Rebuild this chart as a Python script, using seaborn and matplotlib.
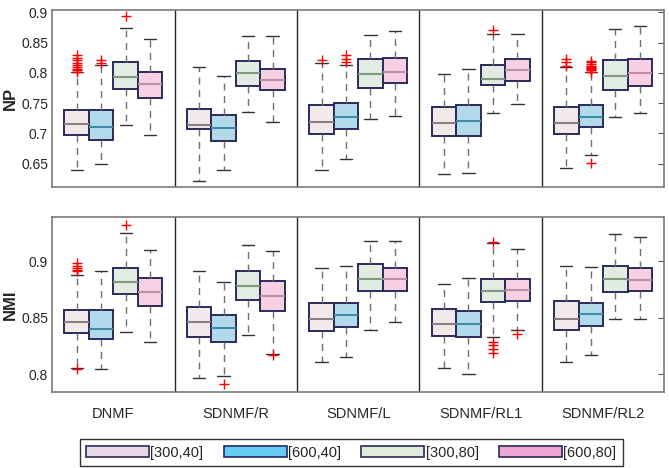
import pandas as pd
import seaborn as sns
import matplotlib.pyplot as plt
from matplotlib.patches import Patch
from matplotlib.ticker import FuncFormatter

sns.set_style("white")
plt.rcParams['font.family'] = ['Liberation Sans', 'DejaVu Sans']

methods = ["DNMF", "SDNMF/R", "SDNMF/L", "SDNMF/RL1", "SDNMF/RL2"]
settings = ["[300,40]", "[600,40]", "[300,80]", "[600,80]"]

# five-number summaries, one row per method, columns follow `settings`
np_low = [[0.6395, 0.649, 0.714, 0.6965],
          [0.622, 0.6395, 0.736, 0.7185],
          [0.6395, 0.657, 0.724, 0.7285],
          [0.633, 0.635, 0.7335, 0.7485],
          [0.642, 0.6645, 0.7265, 0.7335]]
np_q1 = [[0.6965, 0.689, 0.773, 0.758],
         [0.7075, 0.6865, 0.778, 0.771],
         [0.699, 0.7065, 0.775, 0.783],
         [0.695, 0.695, 0.779, 0.786],
         [0.699, 0.710, 0.771, 0.778]]
np_med = [[0.716, 0.711, 0.793, 0.781],
          [0.714, 0.709, 0.800, 0.788],
          [0.7185, 0.7265, 0.798, 0.801],
          [0.717, 0.721, 0.7905, 0.804],
          [0.717, 0.7275, 0.7955, 0.799]]
np_q3 = [[0.739, 0.739, 0.818, 0.802],
         [0.741, 0.731, 0.820, 0.807],
         [0.746, 0.7495, 0.8235, 0.825],
         [0.7435, 0.746, 0.8125, 0.822],
         [0.7435, 0.746, 0.8205, 0.8225]]
np_high = [[0.801, 0.813, 0.8745, 0.855],
           [0.810, 0.7955, 0.860, 0.860],
           [0.8155, 0.813, 0.863, 0.8695],
           [0.798, 0.8055, 0.8645, 0.8645],
           [0.810, 0.801, 0.8725, 0.878]]
np_outliers = [
    ("DNMF", "[300,40]", [0.830, 0.825, 0.821, 0.816, 0.813, 0.810, 0.807, 0.804, 0.802]),
    ("DNMF", "[600,40]", [0.821, 0.8165]),
    ("DNMF", "[300,80]", [0.893]),
    ("SDNMF/L", "[300,40]", [0.821]),
    ("SDNMF/L", "[600,40]", [0.829, 0.8235, 0.818]),
    ("SDNMF/RL1", "[300,80]", [0.8705]),
    ("SDNMF/RL2", "[300,40]", [0.8225, 0.817, 0.8115]),
    ("SDNMF/RL2", "[600,40]", [0.820, 0.817, 0.814, 0.812, 0.810, 0.808, 0.806, 0.804, 0.802, 0.6515]),
]

nmi_low = [[0.8055, 0.8044, 0.8376, 0.828],
           [0.797, 0.798, 0.8346, 0.8178],
           [0.811, 0.8148, 0.8388, 0.846],
           [0.8053, 0.800, 0.8331, 0.8393],
           [0.8107, 0.8166, 0.8488, 0.8488]]
nmi_q1 = [[0.8364, 0.831, 0.8707, 0.860],
          [0.8325, 0.828, 0.8654, 0.856],
          [0.838, 0.8414, 0.874, 0.8734],
          [0.834, 0.8325, 0.8636, 0.865],
          [0.839, 0.8426, 0.8728, 0.8734]]
nmi_med = [[0.8465, 0.840, 0.882, 0.8725],
           [0.846, 0.841, 0.878, 0.869],
           [0.849, 0.852, 0.8846, 0.884],
           [0.8444, 0.844, 0.874, 0.8746],
           [0.849, 0.853, 0.884, 0.8837]]
nmi_q3 = [[0.857, 0.857, 0.894, 0.885],
          [0.859, 0.8527, 0.8914, 0.8825],
          [0.863, 0.8633, 0.8973, 0.8944],
          [0.8577, 0.8556, 0.8846, 0.884],
          [0.865, 0.8633, 0.896, 0.894]]
nmi_high = [[0.888, 0.8917, 0.9246, 0.910],
            [0.8917, 0.8814, 0.9145, 0.9086],
            [0.8938, 0.896, 0.918, 0.9178],
            [0.880, 0.885, 0.916, 0.911],
            [0.8953, 0.895, 0.924, 0.9216]]
nmi_outliers = [
    ("DNMF", "[300,40]", [0.898, 0.896, 0.894, 0.892, 0.891, 0.8045]),
    ("DNMF", "[300,80]", [0.932]),
    ("SDNMF/R", "[600,40]", [0.791]),
    ("SDNMF/R", "[600,80]", [0.8166]),
    ("SDNMF/RL1", "[300,80]", [0.9172, 0.8287, 0.8257, 0.822, 0.819]),
    ("SDNMF/RL1", "[600,80]", [0.8355]),
]

np_ticks = [0.65, 0.7, 0.75, 0.8, 0.85, 0.9]
nmi_ticks = [0.8, 0.85, 0.9]

box_colors = ["#f3e9e9", "#a8def4", "#e0eee0", "#ffc9e2"]
median_colors = ["#8c8080", "#3f8ca6", "#7f9a80", "#c08ea6"]
legend_colors = ["#e8d8e5", "#66ccf5", "#e0ecda", "#f0a6d2"]
edge = "#2a2a5c"


def summary_frame(low, q1, med, q3, high):
    rows = []
    for i, m in enumerate(methods):
        for j, s in enumerate(settings):
            for v in (low[i][j], q1[i][j], med[i][j], q3[i][j], high[i][j]):
                rows.append({"method": m, "setting": s, "value": v})
    return pd.DataFrame(rows)


def outlier_frame(outliers):
    rows = []
    for m, s, vals in outliers:
        for v in vals:
            rows.append({"method": m, "setting": s, "value": v})
    return pd.DataFrame(rows)


def draw_row(ax, box_df, out_df, ticks, ylim, ylabel):
    sns.boxplot(data=box_df, x="method", y="value", hue="setting",
                order=methods, hue_order=settings, palette=box_colors,
                whis=(0, 100), showfliers=False, width=0.8, gap=0,
                linecolor=edge, linewidth=1.4,
                whiskerprops={"color": "#707070", "linestyle": (0, (5, 4)), "linewidth": 1},
                capprops={"color": "#333333", "linewidth": 1},
                medianprops={"linewidth": 1.5},
                legend=False, ax=ax)
    for c, mc in zip(ax.containers, median_colors):
        for line in c.medians:
            line.set_color(mc)
    sns.stripplot(data=out_df, x="method", y="value", hue="setting",
                  order=methods, hue_order=settings, palette=["red"] * 4,
                  dodge=True, jitter=False, marker="+", size=7, linewidth=1,
                  legend=False, ax=ax)
    for coll in ax.collections:
        coll.set_edgecolor("red")
        coll.set_facecolor("red")
    for k in range(len(methods) - 1):
        ax.axvline(k + 0.5, color="#262626", linewidth=1)
    ax.set_xlim(-0.5, len(methods) - 0.5)
    ax.set_ylim(*ylim)
    ax.set_yticks(ticks)
    ax.yaxis.set_major_formatter(FuncFormatter(lambda v, p: "%g" % v))
    ax.tick_params(axis="y", direction="in", right=True, length=4, pad=3,
                   labelsize=10, labelcolor="#262626", color="#555555")
    ax.tick_params(axis="x", length=0, labelsize=10.5, pad=11)
    ax.set_xlabel("")
    ax.set_ylabel(ylabel, fontsize=12, fontweight="bold", labelpad=2)
    for sp in ax.spines.values():
        sp.set_color("#7a7a7a")
        sp.set_linewidth(1.2)


fig, (ax1, ax2) = plt.subplots(2, 1, figsize=(6.69, 4.68), dpi=100)
ax1.set_position([0.078, 0.600, 0.915, 0.379])
ax2.set_position([0.078, 0.162, 0.915, 0.374])

draw_row(ax1, summary_frame(np_low, np_q1, np_med, np_q3, np_high),
         outlier_frame(np_outliers), np_ticks, (0.611, 0.904), "NP")
draw_row(ax2, summary_frame(nmi_low, nmi_q1, nmi_med, nmi_q3, nmi_high),
         outlier_frame(nmi_outliers), nmi_ticks, (0.784, 0.939), "NMI")
ax1.set_xticklabels([])

handles = [Patch(facecolor=c, edgecolor=edge, linewidth=1.2, label=s)
           for c, s in zip(legend_colors, settings)]
fig.legend(handles=handles, loc="center", bbox_to_anchor=(0.525, 0.033), ncol=4,
           frameon=True, fancybox=False, edgecolor="black", fontsize=10.5,
           handlelength=4.3, handleheight=0.85, handletextpad=0.1,
           columnspacing=1.4, borderpad=0.45)

fig.savefig("out.png", dpi=100)
